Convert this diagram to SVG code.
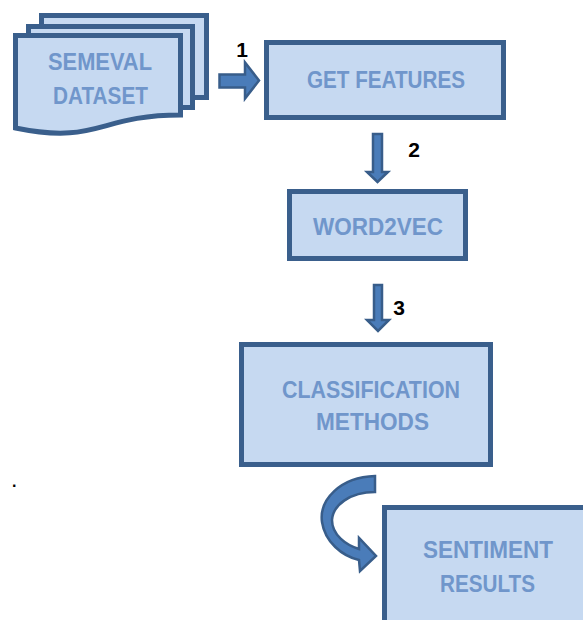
<svg xmlns="http://www.w3.org/2000/svg" width="583" height="620" viewBox="0 0 583 620">
<style>
.box{fill:#c6d9f1;stroke:#3a5f8c;stroke-width:5}
.lbl{font-family:"Liberation Sans",Arial,sans-serif;font-weight:bold;font-size:23px;fill:#7096cb;text-anchor:middle}
.num{font-family:"Liberation Sans",Arial,sans-serif;font-weight:bold;font-size:21px;fill:#000;text-anchor:middle}
.arr{fill:#4a7cb9;stroke:#385d8a;stroke-width:2.5;stroke-linejoin:miter}
</style>
<rect width="583" height="620" fill="#fff"/>
<g id="semeval-dataset">
<rect class="box" x="41.5" y="15.5" width="165" height="82"/>
<rect class="box" x="28.5" y="26.5" width="164" height="81"/>
<path class="box" d="M15.5,35.5 H180.5 V115 C98,115 98,145 15.5,128 Z"/>
<text class="lbl" x="100" y="70" textLength="104" lengthAdjust="spacingAndGlyphs">SEMEVAL</text>
<text class="lbl" x="100.5" y="104" textLength="95" lengthAdjust="spacingAndGlyphs">DATASET</text>
</g>
<g id="get-features">
<rect class="box" x="266.5" y="42.5" width="237" height="75"/>
<text class="lbl" x="386" y="88" textLength="158" lengthAdjust="spacingAndGlyphs">GET FEATURES</text>
</g>
<g id="word2vec">
<rect class="box" x="289.5" y="191.5" width="176" height="67"/>
<text class="lbl" x="378" y="235" textLength="130" lengthAdjust="spacingAndGlyphs">WORD2VEC</text>
</g>
<g id="classification-methods">
<rect class="box" x="241.5" y="344.5" width="249" height="120"/>
<text class="lbl" x="371" y="398" textLength="178" lengthAdjust="spacingAndGlyphs">CLASSIFICATION</text>
<text class="lbl" x="372.5" y="430" textLength="113" lengthAdjust="spacingAndGlyphs">METHODS</text>
</g>
<g id="sentiment-results">
<rect class="box" x="384.5" y="507.5" width="210" height="125"/>
<text class="lbl" x="488" y="558" textLength="130" lengthAdjust="spacingAndGlyphs">SENTIMENT</text>
<text class="lbl" x="487.5" y="592" textLength="95" lengthAdjust="spacingAndGlyphs">RESULTS</text>
</g>
<g id="connectors">
<path class="arr" d="M219.5,74.5 H245 V62.5 L259,80.5 L245,98.5 V87.5 H219.5 Z"/>
<path class="arr" d="M373,134 H382 V172 H388 L377.5,182 L367,172 H373 Z"/>
<path class="arr" d="M374,285 H382 V320 H389 L378,331 L367,320 H374 Z"/>
<path class="arr" d="M375,476 C340,477 319,500 322,522 C325,542 342,556 359,560 L360,571 L376,556 L359,538 L359,549 C346,545 332,535 332,520 C333,505 350,492 375,492 Z"/>
<text class="num" x="242" y="57">1</text>
<text class="num" x="414" y="157">2</text>
<text class="num" x="399" y="315">3</text>
</g>
<text x="12" y="487" font-family="Liberation Sans, Arial, sans-serif" font-size="16" font-weight="bold" fill="#000">.</text>
</svg>
